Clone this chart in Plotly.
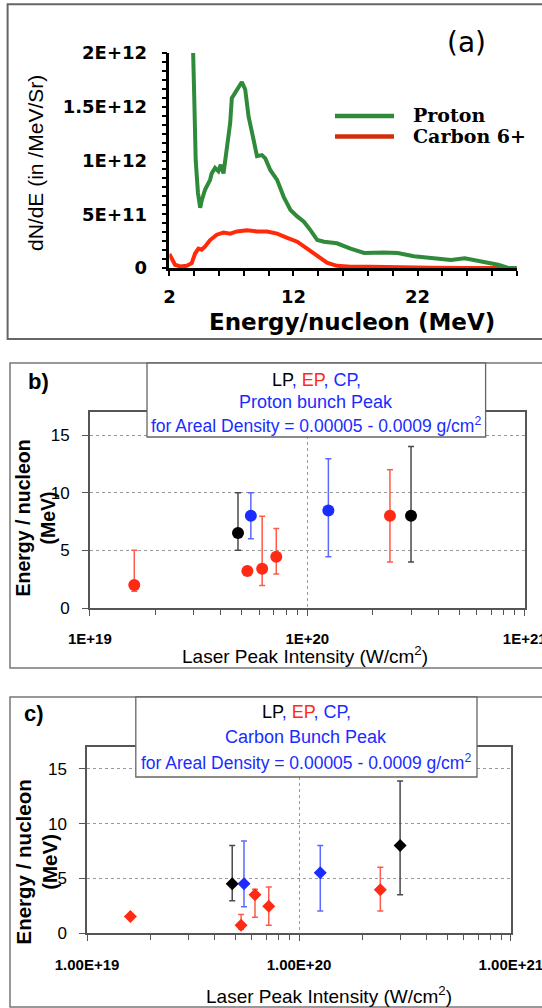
import plotly.graph_objects as go

W, H = 542, 1008


def fx(p):
    return p / W


def fy(p):
    return 1 - p / H


# ---------------- Panel (a) data ----------------
proton_energy = [3.85, 3.95, 4.0, 4.12, 4.3, 4.48, 4.61, 4.88, 5.28, 5.41, 5.68, 5.95, 6.14,
                 6.36, 6.63, 6.9, 7.03, 7.44, 7.84, 8.11, 8.38, 8.79, 9.06, 9.46, 9.73,
                 10.14, 10.68, 11.22, 11.76, 12.3, 12.84, 13.38, 13.92, 14.46, 15.5, 16.6,
                 17.7, 19.3, 20.4, 21.7, 23.1, 24.7, 25.8, 26.6, 27.4, 28.5, 29.3, 30.0]
proton_dnde = [2.3e12, 1.95e12, 1.6e12, 1.0e12, 0.7e12, 0.56e12, 0.63e12, 0.73e12, 0.82e12,
               0.88e12, 0.93e12, 0.90e12, 0.96e12, 0.88e12, 1.10e12, 1.35e12, 1.58e12,
               1.66e12, 1.73e12, 1.66e12, 1.41e12, 1.19e12, 1.04e12, 1.05e12, 1.02e12,
               0.91e12, 0.82e12, 0.66e12, 0.54e12, 0.48e12, 0.43e12, 0.35e12, 0.26e12,
               0.245e12, 0.23e12, 0.18e12, 0.14e12, 0.145e12, 0.14e12, 0.11e12, 0.09e12,
               0.075e12, 0.09e12, 0.075e12, 0.06e12, 0.03e12, 0.0, 0.0]

carbon_energy = [2.0, 2.05, 2.2, 2.45, 2.86, 3.4, 3.8, 4.07, 4.34, 4.6, 4.88, 5.28, 5.82,
                 6.36, 6.9, 7.44, 8.25, 9.06, 9.87, 10.68, 11.5, 12.3, 13.1, 13.9, 14.7,
                 15.5, 16.6, 18.2, 20.4, 23.1, 25.8, 30.0]
carbon_dnde = [0.13e12, 0.12e12, 0.075e12, 0.03e12, 0.015e12, 0.02e12, 0.045e12, 0.135e12,
               0.18e12, 0.17e12, 0.2e12, 0.26e12, 0.31e12, 0.33e12, 0.32e12, 0.34e12,
               0.35e12, 0.34e12, 0.34e12, 0.32e12, 0.28e12, 0.245e12, 0.18e12, 0.11e12,
               0.05e12, 0.02e12, 0.012e12, 0.012e12, 0.006e12, 0.003e12, 0.001e12, 0.0]

a_y_tickvals = [0, 5e11, 1e12, 1.5e12, 2e12]
a_y_ticktext = ["0", "5E+11", "1E+12", "1.5E+12", "2E+12"]
a_x_tickvals = [2, 12, 22]
a_x_ticktext = ["2", "12", "22"]

# ---------------- Panel (b) data: proton bunch peak ----------------
b_lp_x = [4.8e19, 3.0e20]
b_lp_y = [6.5, 8.0]
b_lp_up = [3.5, 6.0]
b_lp_down = [1.5, 4.0]

b_ep_x = [1.6e19, 5.3e19, 6.2e19, 7.2e19, 2.4e20]
b_ep_y = [2.0, 3.2, 3.4, 4.45, 8.0]
b_ep_up = [3.0, 0.0, 4.55, 2.45, 4.0]
b_ep_down = [0.55, 0.0, 1.45, 1.5, 4.0]

b_cp_x = [5.5e19, 1.25e20]
b_cp_y = [8.0, 8.45]
b_cp_up = [2.0, 4.5]
b_cp_down = [2.0, 4.0]

# ---------------- Panel (c) data: carbon bunch peak ----------------
c_lp_x = [4.84e19, 3.0e20]
c_lp_y = [4.5, 8.0]
c_lp_up = [3.5, 5.9]
c_lp_down = [1.55, 4.5]

c_ep_x = [1.6e19, 5.33e19, 6.2e19, 7.2e19, 2.42e20]
c_ep_y = [1.5, 0.7, 3.5, 2.45, 3.95]
c_ep_up = [0.0, 1.0, 0.5, 1.75, 2.05]
c_ep_down = [0.0, 0.35, 2.05, 1.75, 1.95]

c_cp_x = [5.5e19, 1.26e20]
c_cp_y = [4.5, 5.5]
c_cp_up = [3.9, 2.5]
c_cp_down = [2.1, 3.5]

log_tickvals = [1e19, 1e20, 1e21]
b_x_ticktext = ["1E+19", "1E+20", "1E+21"]
c_x_ticktext = ["1.00E+19", "1.00E+20", "1.00E+21"]
bc_y_tickvals = [0, 5, 10, 15]
bc_y_ticktext = ["0", "5", "10", "15"]
minor_log_vals = [m * v for v in log_tickvals[:-1] for m in range(2, 10)]

GREEN = "#2f8a3a"
RED_LINE = "#ff2a0a"
BLACK = "#000000"
RED = "#ff2a14"
BLUE = "#1a2cff"
ARIAL = "Liberation Sans, Arial"

fig = go.Figure()

# Panel (a)
fig.add_trace(go.Scatter(x=carbon_energy, y=carbon_dnde, mode="lines", name="Carbon 6+",
                         line=dict(color=RED_LINE, width=4), xaxis="x", yaxis="y",
                         showlegend=False))
fig.add_trace(go.Scatter(x=proton_energy, y=proton_dnde, mode="lines", name="Proton",
                         line=dict(color=GREEN, width=4), xaxis="x", yaxis="y",
                         showlegend=False))


def add_series(xs, ys, up, down, color, errcolor, symbol, size, xa, ya, name):
    fig.add_trace(go.Scatter(
        x=xs, y=ys, mode="markers", name=name, xaxis=xa, yaxis=ya, showlegend=False,
        marker=dict(color=color, size=size, symbol=symbol, line=dict(width=0)),
        error_y=dict(type="data", symmetric=False, array=up, arrayminus=down,
                     color=errcolor, thickness=1.5, width=3)))


ERR_BLACK = "#4a4a4a"
ERR_RED = "#ff5a4a"
ERR_BLUE = "#5a6aff"

add_series(b_lp_x, b_lp_y, b_lp_up, b_lp_down, BLACK, ERR_BLACK, "circle", 12, "x2", "y2", "LP")
add_series(b_ep_x, b_ep_y, b_ep_up, b_ep_down, RED, ERR_RED, "circle", 12, "x2", "y2", "EP")
add_series(b_cp_x, b_cp_y, b_cp_up, b_cp_down, BLUE, ERR_BLUE, "circle", 12, "x2", "y2", "CP")

add_series(c_lp_x, c_lp_y, c_lp_up, c_lp_down, BLACK, ERR_BLACK, "diamond", 10, "x3", "y3", "LP")
add_series(c_ep_x, c_ep_y, c_ep_up, c_ep_down, RED, ERR_RED, "diamond", 10, "x3", "y3", "EP")
add_series(c_cp_x, c_cp_y, c_cp_up, c_cp_down, BLUE, ERR_BLUE, "diamond", 10, "x3", "y3", "CP")

axis_a_common = dict(showline=True, linecolor="black", linewidth=2.5, ticks="outside",
                     ticklen=5, tickwidth=2, tickcolor="black", showgrid=False,
                     zeroline=False, automargin=False,
                     tickfont=dict(family="DejaVu Sans", size=18, color="black",
                                   weight="bold"))

bc_x_common = dict(type="log", showline=True, linecolor="#555", linewidth=1.5, mirror=True,
                   ticks="outside", ticklen=6, tickwidth=1, tickcolor="#555",
                   showgrid=True, gridcolor="#999", griddash="dot", gridwidth=1,
                   zeroline=False, automargin=False, tickmode="array",
                   tickvals=log_tickvals, ticklabeloverflow="allow",
                   minor=dict(tickmode="array", tickvals=minor_log_vals, ticks="outside",
                              ticklen=5, tickwidth=1, tickcolor="#555", showgrid=False),
                   range=[19, 21])
bc_y_common = dict(range=[0, 17], showline=True, linecolor="#555", linewidth=1.5, mirror=True,
                   ticks="outside", ticklen=6, tickwidth=1, tickcolor="#555",
                   showgrid=True, gridcolor="#999", griddash="dot", gridwidth=1,
                   zeroline=False, automargin=False, tickmode="array",
                   tickvals=bc_y_tickvals, ticktext=bc_y_ticktext,
                   tickfont=dict(family=ARIAL, size=17, color="black"),
                   ticklabelstandoff=9)

fig.update_layout(
    width=W, height=H, autosize=False,
    margin=dict(l=0, r=0, t=0, b=0),
    paper_bgcolor="white", plot_bgcolor="white",
    xaxis=dict(domain=[fx(169.4), fx(516.8)], range=[2, 30], anchor="y",
               tickmode="array", tickvals=a_x_tickvals, ticktext=a_x_ticktext,
               minor=dict(dtick=2, tick0=2, ticks="outside", ticklen=5, tickwidth=2,
                          tickcolor="black", showgrid=False),
               ticklabelstandoff=6, **axis_a_common),
    yaxis=dict(domain=[fy(268), fy(53)], range=[0, 2e12], anchor="x",
               tickmode="array", tickvals=a_y_tickvals, ticktext=a_y_ticktext,
               minor=dict(dtick=5e11 / 6, tick0=0, ticks="outside", ticklen=5, tickwidth=2,
                          tickcolor="black", showgrid=False),
               ticklabelstandoff=11, **axis_a_common),
    xaxis2=dict(domain=[fx(89.9), fx(524.7)], anchor="y2", ticktext=b_x_ticktext,
                tickfont=dict(family=ARIAL, size=15, color="black", weight="bold"),
                ticklabelstandoff=10, **bc_x_common),
    yaxis2=dict(domain=[fy(608), fy(412)], anchor="x2", **bc_y_common),
    xaxis3=dict(domain=[fx(87.1), fx(510.9)], anchor="y3", ticktext=c_x_ticktext,
                tickfont=dict(family=ARIAL, size=15, color="black", weight="bold"),
                ticklabelstandoff=11, **bc_x_common),
    yaxis3=dict(domain=[fy(933), fy(747)], anchor="x3", **bc_y_common),
)

shapes = [
    # panel frames
    dict(type="rect", xref="paper", yref="paper", x0=fx(7.6), x1=fx(580), y0=fy(339), y1=fy(4.3),
         line=dict(color="#666", width=2), layer="below"),
    dict(type="rect", xref="paper", yref="paper", x0=fx(10), x1=fx(580), y0=fy(668), y1=fy(363),
         line=dict(color="#777", width=1.5), layer="below"),
    dict(type="rect", xref="paper", yref="paper", x0=fx(10), x1=fx(580), y0=fy(1007), y1=fy(697),
         line=dict(color="#777", width=1.5), layer="below"),
    # title boxes
    dict(type="rect", xref="paper", yref="paper", x0=fx(147), x1=fx(485.6), y0=fy(437), y1=fy(363),
         line=dict(color="#666", width=1.3), fillcolor="white", layer="above"),
    dict(type="rect", xref="paper", yref="paper", x0=fx(135.8), x1=fx(477), y0=fy(777), y1=fy(697),
         line=dict(color="#666", width=1.3), fillcolor="white", layer="above"),
    # legend lines for panel (a)
    dict(type="line", xref="paper", yref="paper", x0=fx(335), x1=fx(394), y0=fy(116), y1=fy(116),
         line=dict(color=GREEN, width=4.5)),
    dict(type="line", xref="paper", yref="paper", x0=fx(335), x1=fx(394), y0=fy(136.5), y1=fy(136.5),
         line=dict(color="#d0300c", width=4.5)),
]
fig.update_layout(shapes=shapes)


def ann(text, x, y, size, family, color="black", weight="normal", xanchor="center",
        angle=0):
    return dict(text=text, x=fx(x), y=fy(y), xref="paper", yref="paper", showarrow=False,
                xanchor=xanchor, yanchor="middle", textangle=angle,
                font=dict(size=size, family=family, color=color, weight=weight))


title_line1 = ("<span style='color:#000'>LP</span><span style='color:%s'>, </span>"
               "<span style='color:%s'>EP</span><span style='color:%s'>, CP,</span>"
               % (BLUE, RED, BLUE))
areal = "for Areal Density = 0.00005 - 0.0009 g/cm<sup>2</sup>"

annotations = [
    ann("(a)", 466.7, 43, 28, "DejaVu Sans"),
    ann("Proton", 411, 115, 19, "DejaVu Serif", weight="bold", xanchor="left"),
    ann("Carbon 6+", 411, 136, 19, "DejaVu Serif", weight="bold", xanchor="left"),
    ann("dN/dE (in /MeV/Sr)", 36, 163, 21, ARIAL, angle=-90),
    ann("Energy/nucleon (MeV)", 352, 322, 23, "DejaVu Sans", weight="bold"),
    # panel b
    ann("b)", 38, 381, 22, ARIAL, weight="bold"),
    ann(title_line1, 316, 380, 18, ARIAL),
    ann("Proton bunch Peak", 316, 402, 18, ARIAL, color=BLUE),
    ann(areal, 316, 425, 17.5, ARIAL, color=BLUE),
    ann("Energy / nucleon<br>(MeV)", 34.5, 518, 19.5, ARIAL, weight="bold", angle=-90),
    ann("Laser Peak Intensity (W/cm<sup>2</sup>)", 305, 655, 19, ARIAL),
    # panel c
    ann("c)", 34, 713, 22, ARIAL, weight="bold"),
    ann(title_line1, 306, 712, 18, ARIAL),
    ann("Carbon Bunch Peak", 306, 737, 18, ARIAL, color=BLUE),
    ann(areal, 306, 762, 17.5, ARIAL, color=BLUE),
    ann("Energy / nucleon<br>(MeV)", 36.5, 862, 20.5, ARIAL, weight="bold", angle=-90),
    ann("Laser Peak Intensity (W/cm<sup>2</sup>)", 329, 995, 19, ARIAL),
]
fig.update_layout(annotations=annotations)

fig.write_html("out.html")
